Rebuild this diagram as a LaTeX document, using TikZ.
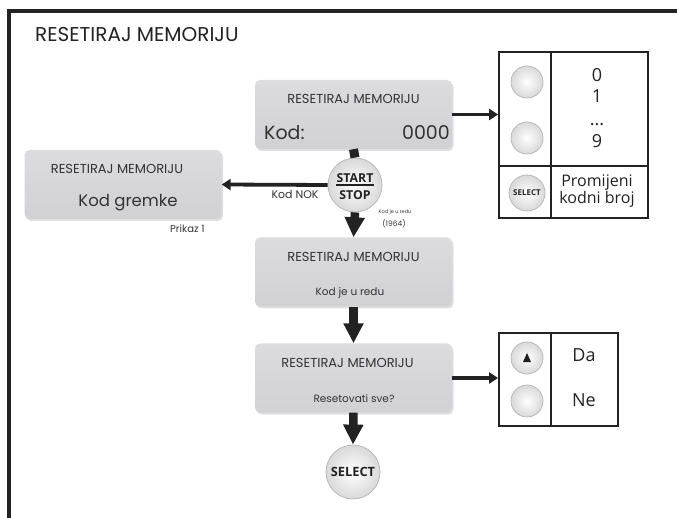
\documentclass[tikz,border=0pt]{standalone}
\usepackage{fontspec}
\setmainfont{Poppins}
\newfontfamily\keyfont{Open Sans}
\usetikzlibrary{arrows.meta,shadows}

\definecolor{screengray}{HTML}{D1D1D3}
\definecolor{screenlight}{HTML}{DCDCDE}
\definecolor{inkgray}{HTML}{333333}
\definecolor{framegray}{HTML}{222222}
\newcommand{\pxsize}[1]{\fontsize{#1}{#1}\selectfont}

\tikzset{
  screen/.style={rounded corners=5pt, top color=screenlight, bottom color=screengray,
    drop shadow={opacity=0.25, shadow xshift=1.5pt, shadow yshift=-2pt},
    minimum width=197pt, minimum height=69pt, inner sep=0pt},
  btn/.style={circle, draw=gray!55, line width=0.8pt, inner color=white,
    outer color=gray!30, inner sep=0pt, text=framegray},
  bigbtn/.style={btn, minimum size=54pt, font=\keyfont\bfseries},
  smallbtn/.style={btn, minimum size=32pt},
  tablebox/.style={draw=framegray, line width=1.8pt, inner sep=0pt},
  downarrow/.style={line width=8.5pt, framegray, -{Triangle[length=20pt,width=19pt]}},
  sidearrow/.style={line width=3.8pt, framegray, -{Triangle[length=9pt,width=11pt]}},
  txt/.style={text=inkgray, inner sep=0pt},
  celltxt/.style={text=framegray, inner sep=0pt, anchor=base, font=\keyfont},
}

\begin{document}
\begin{tikzpicture}[x=1pt, y=-1pt]
\useasboundingbox (0,0) rectangle (677,518);
% frame and heading
\draw[line width=4pt, framegray] (9,518) -- (9,11.5) -- (677,11.5);
\node[txt, anchor=west, text=framegray] (title) at (35,35) {\pxsize{20}RESETIRAJ MEMORIJU};

% code entry
\node[screen] (code) at (353.5,114.5) {};
\node[txt] (codetitle) at (353.5,99) {\pxsize{13}RESETIRAJ MEMORIJU};
\node[txt, anchor=west] (codelabel) at (264,133) {\pxsize{19}Kod:};
\node[txt, anchor=east] (codevalue) at (450,133) {\pxsize{19}0000};

\node[bigbtn] (startstop) at (355,185) {};
\node[txt, text=framegray, font=\keyfont\bfseries] (startword) at (355,178) {\pxsize{12.3}START};
\node[txt, text=framegray, font=\keyfont\bfseries] (stopword) at (355,195.5) {\pxsize{12.3}STOP};
\draw[line width=1.8pt, framegray] ([yshift=-2.5pt]startword.south west) -- ([yshift=-2.5pt]startword.south east);
\draw[line width=9pt, framegray] (code.south) -- (startstop.north);

% wrong code
\node[screen] (error) at (123,184.5) {};
\node[txt] (errortitle) at (117,169) {\pxsize{13}RESETIRAJ MEMORIJU};
\node[txt] (errortext) at (128,203) {\pxsize{16.5}Kod gremke};
\node[txt, anchor=west] (errorview) at (170,229) {\pxsize{10}Prikaz 1};
\draw[sidearrow] (startstop.west) -- (error.east);
\node[txt] (noklabel) at (295,194) {\pxsize{11}Kod NOK};

% code ok
\node[txt] (okline) at (395,212) {\pxsize{5}Kod je u redu};
\node[txt] (okcode) at (394,224) {\pxsize{7.5}(1964)};
\node[screen] (ok) at (353.5,272) {};
\node[txt] (oktitle) at (353.5,257) {\pxsize{13}RESETIRAJ MEMORIJU};
\node[txt] (oktext) at (350,293) {\pxsize{10.5}Kod je u redu};
\draw[downarrow] (startstop.south) -- (ok.north);

% reset question
\node[screen] (reset) at (353.5,378) {};
\node[txt] (resettitle) at (347.5,363) {\pxsize{13}RESETIRAJ MEMORIJU};
\node[txt] (resettext) at (354,399) {\pxsize{10.5}Resetovati sve?};
\draw[downarrow] (ok.south) -- (reset.north);

\node[bigbtn] (select) at (353,472) {\pxsize{12.8}SELECT};
\draw[downarrow] (reset.south) -- (select.north);

% digit keys
\node[tablebox, minimum width=149pt, minimum height=166pt] (digits) at (573.5,135) {};
\draw[tablebox] (551,52) -- (551,218);
\draw[tablebox] (499,166) -- (648,166);
\node[smallbtn] (digitup) at (527,82) {};
\node[smallbtn] (digitdown) at (527,138) {};
\node[btn, minimum size=36pt, font=\keyfont\bfseries] (digitselect) at (527,193) {\pxsize{8}SELECT};
\node[celltxt] (digit0) at (597,82) {\pxsize{18}0};
\node[celltxt] (digit1) at (597,103) {\pxsize{18}1};
\node[celltxt] (digitdots) at (597,126) {\pxsize{18}...};
\node[celltxt] (digit9) at (597,148) {\pxsize{18}9};
\node[celltxt] (change1) at (597,187) {\pxsize{16}Promijeni};
\node[celltxt] (change2) at (597,204) {\pxsize{16}kodni broj};
\draw[sidearrow] (code.east) -- (code.east -| digits.west);

% yes / no keys
\node[tablebox, minimum width=119pt, minimum height=93pt] (choice) at (558.5,379.5) {};
\draw[tablebox] (551,333) -- (551,426);
\node[smallbtn] (yeskey) at (527,358) {};
\fill[framegray] (523,362) -- (531,362) -- (527,353) -- cycle;
\node[smallbtn] (nokey) at (527,401) {};
\node[celltxt] (yestext) at (584,362) {\pxsize{18}Da};
\node[celltxt] (notext) at (584,406) {\pxsize{18}Ne};
\draw[sidearrow] (reset.east) -- (reset.east -| choice.west);
\end{tikzpicture}
\end{document}
